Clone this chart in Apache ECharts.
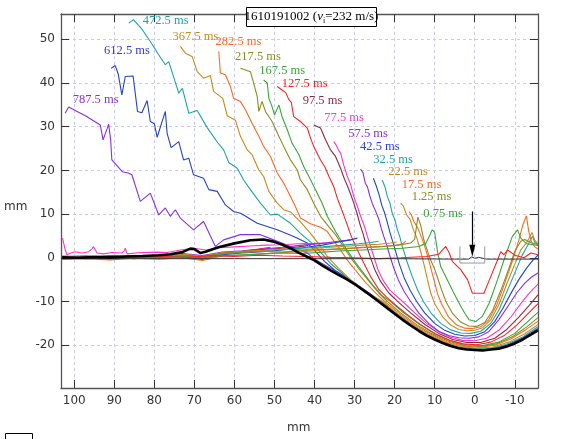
<!DOCTYPE html>
<html>
<head>
<meta charset="utf-8">
<script src="https://cdn.jsdelivr.net/npm/echarts@6/dist/echarts.min.js"></script>
<style>
html, body { margin: 0; padding: 0; background: #fff; }
#chart { width: 567px; height: 439px; }
</style>
</head>
<body>
<div id="chart"></div>
<script>
// tick values (mm)
const xTicks = [-10, 0, 10, 20, 30, 40, 50, 60, 70, 80, 90, 100];
const yTicks = [-20, -10, 0, 10, 20, 30, 40, 50];
const GAP = ['-', '-'];

// surface profiles [x mm, height mm]
const p0_25 = [[103,0.0],[96,-0.2],[90,0.1],[84,0.0],[78,0.3],[72,0.1],[66,0.5],[60,0.3],[54,0.6],[48,0.4],[42,0.3],[36,0.1],[30,0.0],[24,-0.2],[18.5,0.0],[12,0.3],[9,0.8],[7.25,2.6],[6.4,1.2],[5.6,-0.8],[3.5,-2.7],[1.8,-5.0],[0.6,-8.1],[-2.3,-8.1],[-4,-4.3],[-5.7,-0.5],[-6.5,1.4],[-7.3,0.7],[-8.2,1.8],[-10,0.6],[-12.3,0.0],[-14,1.1],[-15.8,0.7]];
const p0_75 = [[103,-0.2],[97,0.0],[91,-0.3],[85,0.1],[79,-0.1],[73,0.3],[68,-0.2],[63,0.5],[58,0.7],[53,0.9],[48,1.1],[43,1.0],[38,1.3],[33,1.6],[28,1.8],[23,2.0],[18,2.2],[14,2.6],[12.2,3.3],[11.2,5.2],[10.6,6.4],[10,5.8],[9.25,1.2],[8.5,-2.0],[7.2,-4.4],[6,-6.6],[4.8,-8.8],[3.5,-11.1],[2.4,-12.8],[1.4,-14.2],[-0.25,-14.6],[-1.9,-13.4],[-3.6,-10.4],[-5.7,-5.0],[-7.3,-0.5],[-9.4,4.9],[-10.7,6.4],[-11.5,4.5],[-13,3.2],[-15.8,2.8]];
const p1_25 = [[103,0.2],[97,-0.1],[91,0.3],[85,0.0],[79,0.4],[73,0.6],[68,0.1],[63,1.0],[58,1.2],[53,1.5],[48,1.3],[43,1.7],[38,1.9],[33,2.1],[28,2.4],[23,2.6],[19,2.9],[16,3.4],[15,4.2],[14.2,9.3],[13.5,7.5],[12.7,4.1],[11.8,1.6],[11,-0.5],[10,-2.6],[9.2,-4.8],[8.2,-7.5],[7.2,-10.0],[5.5,-12.8],[3.5,-14.7],[1.5,-15.6],[-0.5,-15.7],[-2.5,-14.8],[-4.5,-12.0],[-6.5,-7.5],[-8.5,-2.5],[-10,1.5],[-11.5,3.8],[-12.5,4.2],[-14,3.5],[-15.8,3.0]];
const p17_5 = [[103,-0.4],[97,-0.2],[91,-0.5],[85,-0.1],[79,-0.3],[73,0.0],[68,-0.6],[63,0.4],[58,0.6],[53,0.9],[48,1.2],[43,1.4],[38,1.8],[33,2.0],[28,2.3],[24,2.5],[20,2.8],[18,3.2],[17.2,3.8],GAP,[16.4,10.6],[15.8,9.8],[15.2,8.3],[14.2,6.8],[13.2,4.5],[12.2,1.8],[11.2,-1.5],[10.2,-5.0],[9.3,-8.2],[8.3,-10.5],[6.5,-13.6],[4.5,-15.4],[2.5,-16.1],[0.5,-16.2],[-1.5,-15.8],[-3.5,-14.2],[-5.5,-10.8],[-7.5,-5.8],[-9.5,-0.5],[-11,4.0],[-12,7.5],[-12.9,9.6],[-13.5,6.0],[-14.2,3.5],[-15,2.5],[-15.8,2.0]];
const p22_5 = [[103,0.3],[97,0.5],[91,0.2],[85,0.6],[79,0.3],[73,0.8],[68,0.4],[63,1.2],[58,1.5],[53,1.7],[48,2.0],[43,1.8],[38,2.3],[33,2.6],[28,2.9],[24,3.1],[21,3.4],[19.5,3.6],GAP,[18.5,12.5],[17.8,11.8],[17,9.8],[16.2,8.9],[15.3,6.4],[14.4,4.4],[13.5,1.5],[12.6,-1.8],[11.8,-5.0],[11.0,-8.0],[10,-10.5],[8,-13.5],[6,-15.4],[4,-16.4],[2,-16.7],[0,-16.6],[-2,-16.0],[-4,-14.2],[-6,-10.8],[-8,-6.0],[-10,-1.5],[-11.5,1.8],[-13,3.5],[-14.3,5.8],[-15,4.0],[-15.8,3.2]];
const p32_5 = [[103,-0.1],[97,0.2],[91,-0.2],[85,0.3],[79,0.1],[73,0.5],[68,-0.3],[63,0.9],[58,1.3],[53,1.6],[48,1.9],[43,2.2],[38,2.5],[33,2.9],[29,3.2],[26,3.5],[24,3.8],GAP,[23.1,17.8],[22.4,16.2],[21.8,14.0],[21.2,12.6],[20.6,10.2],[19.9,8.6],[19.3,6.4],[18.7,4.8],[18.1,2.6],[17.4,0.6],[16.8,-1.2],[15.6,-4.3],[14.2,-7.5],[12.8,-10.0],[10.8,-12.8],[8.5,-15.0],[6,-16.5],[3.5,-17.2],[1,-17.3],[-1.5,-16.8],[-4,-15.0],[-6,-12.0],[-8,-7.8],[-10,-3.5],[-11.8,0.5],[-13.2,2.8],[-14.4,4.9],[-15,3.5],[-15.8,3.0]];
const p42_5 = [[103,0.1],[97,-0.1],[91,0.2],[85,-0.2],[79,0.3],[73,0.2],[68,-0.4],[63,0.7],[58,1.1],[53,1.4],[48,1.8],[43,2.3],[38,2.9],[34,3.6],[31,4.1],[29.3,4.5],GAP,[25.3,18.2],[24.6,16.5],[23.9,14.5],[23.2,12.0],[22.5,10.3],[21.8,8.0],[21.1,5.6],[20.3,3.2],[19.6,1.0],[18.8,-1.5],[17.6,-4.6],[16.1,-7.5],[14.5,-10.0],[12.5,-12.6],[10,-15.0],[7.5,-16.6],[5,-17.5],[2.5,-17.9],[0,-17.8],[-2.5,-16.9],[-5,-14.6],[-7,-11.6],[-9,-8.2],[-11,-5.0],[-13,-2.3],[-14.5,-0.6],[-15.8,0.6]];
const p57_5 = [[103,0.4],[97,0.2],[91,0.5],[85,0.3],[79,0.6],[73,1.0],[68,0.5],[63,1.3],[58,1.6],[53,2.0],[48,2.4],[43,2.9],[38,3.3],[34,3.8],[31,4.1],GAP,[28.5,20.3],[27.9,19.5],[27.3,17.0],[26.8,16.3],[26.2,14.2],[25.6,12.5],[24.8,10.8],[23.9,8.7],[23.3,6.6],[22.7,4.9],[22.0,3.0],[21.4,1.1],[20.2,-2.4],[19.1,-5.0],[17.7,-7.6],[16,-10.0],[14,-12.6],[11.5,-15.0],[9,-16.8],[6.5,-17.8],[4,-18.3],[1.5,-18.4],[-1,-18.1],[-3.5,-16.9],[-6,-14.2],[-8.5,-10.8],[-10.5,-8.0],[-12.5,-5.8],[-14.2,-4.4],[-15.8,-3.5]];
const p77_5 = [[102.9,4.5],[102.3,2.0],[101.8,0.7],[100.5,1.2],[99.75,1.4],[98,1.1],[96.4,1.4],[95.6,2.0],[95.2,2.6],[94.3,1.1],[92.7,0.9],[90.6,1.2],[88.1,1.1],[87.5,1.6],[87.25,2.2],[86.8,0.9],[83.5,1.2],[79.3,1.3],[76.8,1.2],[73.5,1.8],[70.2,2.2],[67,1.8],[64,2.3],[60,2.5],[56,2.7],[52,2.9],[48,3.0],[44,3.2],[40,3.3],[36.8,3.4],GAP,[35.2,26.6],[34.6,25.8],[34.0,24.6],[33.5,24.0],[32.7,21.2],[31.8,18.6],[31.0,16.8],[30.2,14.0],[29.3,11.8],[28.5,9.5],[27.6,7.4],[26.8,4.9],[26.0,2.6],[25.2,0.3],[24.2,-2.6],[23,-5.0],[21.2,-7.4],[18,-10.0],[15,-12.6],[12,-15.0],[9,-16.9],[6,-18.2],[3,-18.9],[0,-19.0],[-3,-18.4],[-6,-16.6],[-9,-13.6],[-11.5,-10.5],[-13.5,-8.2],[-15.8,-6.0]];
const p97_5 = [[103,0.0],[97,0.3],[91,0.1],[85,0.4],[79,0.2],[73,0.7],[68,0.3],[63,1.1],[58,1.4],[53,1.9],[48,2.2],[44,2.5],[41.5,2.8],GAP,[40.2,30.4],[39.75,30.2],[38.5,29.7],[37.25,27.0],[36,24.7],[34.75,23.2],[33.5,20.5],[32.6,18.2],[31.8,16.5],[31,14.6],[30.2,12.5],[29.4,10.2],[28.6,7.5],[27.9,5.6],[27.3,3.5],[26.2,0.5],[25,-2.6],[23.5,-5.4],[21.5,-8.0],[19,-10.2],[16,-12.6],[12.5,-15.2],[9,-17.3],[5.5,-18.7],[2,-19.4],[-1.5,-19.4],[-5,-18.4],[-8,-16.4],[-11,-13.6],[-13.5,-11.0],[-15.8,-8.5]];
const p127_5 = [[103,0.2],[97,0.0],[91,0.4],[85,0.1],[79,0.5],[73,0.6],[68,0.0],[63,1.0],[58,1.5],[54,2.0],[51,2.4],GAP,[49.3,39.2],[48.1,38.4],[47.2,37.8],[46.4,36.2],[45.8,35.6],[45.2,32.3],[43.5,31.2],[41.8,29.7],[41,27.4],[40.2,25.5],[38.5,22.4],[37.4,20.8],[36.4,18.6],[35.2,16.3],[34.3,13.6],[33.5,11.7],[32,8.0],[31,5.3],[29.3,1.8],[27.7,-1.2],[26,-4.3],[24,-7.2],[22,-9.0],[20,-10.6],[17,-12.9],[13.5,-15.3],[10,-17.3],[6.5,-18.8],[3,-19.7],[-0.5,-19.9],[-4,-19.3],[-7.5,-17.7],[-10.5,-15.4],[-13.5,-12.6],[-15.8,-10.5]];
const p167_5 = [[103,-0.3],[97,0.1],[91,-0.1],[85,0.2],[79,0.0],[73,0.4],[68,-0.1],[63,0.8],[58,1.3],[55,1.7],GAP,[52.7,40.7],[51.8,40],[51.4,36.5],[50.6,34.6],[50,32.7],[48.9,35],[48.1,32.3],[46.8,29.3],[45.6,26.2],[43.9,23.6],[42.7,20.9],[41.4,18.6],[39.75,15.6],[38.1,12.5],[36.8,9.5],[34.75,6.0],[32.25,2.3],[30.2,-0.5],[28,-3.2],[25.5,-6.2],[23.2,-8.6],[21,-10.0],[18,-12.4],[14,-15.1],[10,-17.4],[6,-19.0],[2,-19.9],[-2,-20.1],[-6,-19.3],[-10,-17.3],[-13,-14.8],[-15.8,-12.5]];
const p217_5 = [[103,0.1],[97,-0.2],[91,0.2],[85,-0.1],[79,0.3],[73,0.5],[68,0.0],[63,0.9],[60.5,1.2],GAP,[58.5,43.4],[56,42.6],[55.2,40],[54.3,36.9],[53.9,33.5],[53.1,35.8],[52.25,33.5],[50.6,31.2],[48.9,27.8],[47.7,25.5],[46,22.4],[44.3,20.1],[43.5,17.8],[41.8,15.6],[40.2,12.5],[38.5,9.5],[36.5,7.2],[34.75,5.3],[32.25,1.8],[30.5,-0.6],[28.5,-3.0],[26,-5.8],[24,-8.0],[21.8,-10.0],[18.5,-12.6],[14.5,-15.3],[10.5,-17.5],[6.5,-19.1],[2.5,-20.1],[-1.5,-20.3],[-5.5,-19.7],[-9.5,-18.0],[-13,-15.8],[-15.8,-13.7]];
const p282_5 = [[63.9,47.2],[63.5,42.3],[62.25,41.9],[61,39.2],[60.2,36.5],[58.5,35.8],[57.25,33.9],[55.6,30.8],[53.9,27.8],[52.7,25.5],[51,23.2],[49.3,19.4],[47.7,17.1],[46.4,14.8],[44.75,11.7],[43.5,9.1],[41,7.8],[38.5,7.0],[36.8,6.0],[35,3.6],[33.5,1.8],[32,-0.3],[30,-2.6],[27.5,-5.4],[25,-7.8],[22.5,-10.0],[19,-12.6],[15,-15.3],[11,-17.5],[7,-19.2],[3,-20.2],[-1,-20.5],[-5,-20.0],[-9,-18.6],[-12.5,-16.6],[-15.8,-14.5]];
const p367_5 = [[73.5,48.4],[72.2,46.8],[70.5,46.0],[70.2,45.7],[69.3,42.6],[67.7,41.1],[66,41.7],[65.2,38.1],[64.75,37.7],[62.9,36.5],[61.8,32.5],[59.75,31.5],[58.5,27.8],[56.8,24.7],[55.6,23.6],[53.9,20.1],[52.7,18.6],[51.4,15.2],[49.3,12.5],[47.7,11.0],[46,10.5],[43.5,8.2],[41,5.6],[38.5,2.6],[36.8,0.3],[34,-2.4],[31,-5.0],[27,-7.9],[23,-10.0],[19.5,-12.7],[15.5,-15.3],[11.5,-17.6],[7.5,-19.3],[3.5,-20.3],[-0.5,-20.7],[-4.5,-20.4],[-8.5,-19.3],[-12.5,-17.4],[-15.8,-15.3]];
const p472_5 = [[86.4,53.7],[85.2,54.5],[83,52.2],[81,49.5],[79,46.6],[77.25,44.2],[76.4,44.9],[73.9,37.7],[73,38.8],[71.4,33.1],[69.3,33.7],[66.8,29.8],[64.3,26.5],[62.7,24.7],[61.4,21.8],[59.3,20.5],[57.7,17.8],[56,15.6],[53.5,12.5],[51,9.8],[49.3,10.0],[46,7.9],[43.5,5.6],[40.2,3.0],[38,0.8],[36,-1.3],[33,-3.6],[30,-6.0],[27,-8.1],[23.4,-10.0],[20,-12.6],[16,-15.2],[12,-17.4],[8,-19.2],[4,-20.4],[0,-20.8],[-4,-20.7],[-8,-19.8],[-12,-18.1],[-15.8,-15.8]];
const p612_5 = [[90.75,43.4],[89.75,44.0],[89,42],[88.1,37.3],[87.25,41.5],[85.3,41.6],[84.2,33.5],[83.1,33.2],[81.8,36.0],[81,31.2],[80,30.7],[79.3,27.6],[77.25,33.5],[76.8,28.5],[75.8,25.2],[73.9,26.6],[72.7,22.4],[71.4,22.8],[70.2,19.0],[67.7,18.2],[66.4,15.6],[64.3,15.2],[62.25,12.1],[60.2,10.6],[58.5,10.2],[57.7,9.8],[54.3,7.9],[49.3,6.4],[45.2,4.9],[41.8,3.4],[39.5,1.2],[37.5,-0.8],[35,-2.8],[32,-4.5],[28,-7.0],[24,-9.6],[20,-12.4],[16,-15.1],[12,-17.4],[8,-19.3],[4,-20.5],[0,-20.9],[-4,-20.8],[-8,-20.0],[-12,-18.3],[-15.8,-16.2]];
const p787_5 = [[102.25,33.1],[101.4,34.5],[97,32.4],[93.5,30.4],[92.8,27.0],[91.8,29.5],[91.4,30.6],[90.9,27],[90.6,22.4],[88,19.7],[86.5,19.4],[85.6,19.0],[83.5,12.9],[81,14.8],[78.9,9.8],[77.25,11.4],[76,9.5],[74.75,11.0],[73.5,9.1],[70.2,6.4],[67.7,8.3],[64.75,2.6],[62.7,4.1],[58.5,5.3],[53.5,5.3],[50.2,4.1],[46,2.6],[41.8,1.1],[40,-0.3],[36,-2.4],[32,-4.6],[28,-7.1],[24,-9.8],[20,-12.6],[16,-15.3],[12,-17.6],[8,-19.4],[4,-20.6],[0,-21.0],[-4,-20.9],[-8,-20.1],[-12,-18.5],[-15.8,-16.4]];
const pFinal = [[103,0.1],[99,0.0],[95,0.2],[91,0.1],[87,0.3],[83,0.4],[79,0.6],[76,0.8],[73,1.3],[71,2.1],[70,2.0],[68.5,1.1],[67.2,1.4],[64,2.4],[60,3.3],[56,4.0],[52.7,4.2],[50.2,3.7],[48,3.0],[46,2.2],[44,1.2],[42,0.3],[40,-0.6],[38,-1.8],[36,-2.9],[34,-3.9],[32,-4.9],[30,-6.0],[28,-7.3],[26,-8.6],[24,-10.0],[22,-11.4],[20,-12.8],[18,-14.2],[16,-15.5],[14,-16.7],[12,-17.8],[10,-18.7],[8,-19.5],[6,-20.2],[4,-20.7],[2,-21.0],[0,-21.1],[-2,-21.2],[-4,-21.0],[-6,-20.8],[-8,-20.3],[-10,-19.6],[-12,-18.7],[-14,-17.6],[-15.8,-16.6]];
const surface = [[103,-0.2],[60,-0.2],[20,-0.2],[5,-0.3],[1.5,-0.3],[0.8,0.2],[0,-0.1],[-1,0.1],[-3,-0.3],[-15.8,-0.3]];

// impact point marker and arrow
const bracket = [[3.7,2.6],[3.7,-1.2],[-2.5,-1.2],[-2.5,2.6]];
const arrowTail = [0.6, 10.6];
const arrowHead = [0.6, 1.6];

const labelTexts = ['787.5 ms','612.5 ms','472.5 ms','367.5 ms','282.5 ms','217.5 ms','167.5 ms','127.5 ms','97.5 ms','77.5 ms','57.5 ms','42.5 ms','32.5 ms','22.5 ms','17.5 ms','1.25 ms','0.75 ms'];

const C = {
    green: '#3aa63a', olive: '#8c8c20', orange: '#ff6a22', gold: '#c98a1c', teal: '#1da5a5',
    blue: '#2442c4', purple: '#8a2fe0', magenta: '#ff35cc', maroon: '#8e2a40', red: '#ff2222'
};

// drawn in this order (later on top)
const profiles = [
    [p787_5, C.purple], [p612_5, C.blue], [p472_5, C.teal], [p367_5, C.gold], [p282_5, C.orange],
    [p217_5, C.olive], [p167_5, C.green], [p127_5, C.red], [p97_5, C.maroon], [p77_5, C.magenta],
    [p57_5, C.purple], [p42_5, C.blue], [p32_5, C.teal], [p22_5, C.gold], [p17_5, C.orange],
    [p1_25, C.olive], [p0_75, C.green], [p0_25, C.red]
];
const labelColors = [C.purple, '#3535ee', C.teal, C.gold, C.orange, C.olive, C.green, C.red, C.maroon, C.magenta,
    C.purple, '#2a3cf5', C.teal, C.gold, C.orange, C.olive, C.green];
const labelPos = [[72.7,100],[104,50.7],[142.7,21],[172.5,36.7],[215.5,41.7],[235,56.7],[259.3,71],[281.7,83.7],
    [302.7,100.7],[324.3,117.3],[348.3,133.3],[360,146.7],[373.3,160],[388.3,171.7],[401.7,185],[411.7,196.7],[423.3,213.3]];

let chart = echarts.init(document.getElementById('chart'));

const axisFont = { fontFamily: 'DejaVu Sans', fontSize: 12, color: '#333' };
const gridLine = { show: true, lineStyle: { color: '#c9c9f2', type: [3, 3], width: 1 } };
const frame = { show: true, onZero: false, lineStyle: { color: '#555', width: 1.3 } };

let series = profiles.map(p => ({
    type: 'line',
    data: p[0],
    showSymbol: false,
    symbol: 'none',
    silent: true,
    lineStyle: { color: p[1], width: 1.1 }
}));

series.push({
    type: 'line', data: surface, showSymbol: false, symbol: 'none', silent: true,
    lineStyle: { color: '#333', width: 1 },
    markLine: {
        silent: true,
        symbol: ['none', 'triangle'],
        symbolSize: [6, 12],
        label: { show: false },
        lineStyle: { color: '#000', width: 1.2, type: 'solid' },
        data: [[{ coord: arrowTail }, { coord: arrowHead }]]
    }
});
series.push({
    type: 'line', data: bracket, showSymbol: false, symbol: 'none', silent: true,
    lineStyle: { color: '#999', width: 1 }
});
series.push({
    type: 'line', data: pFinal, showSymbol: false, symbol: 'none', silent: true,
    lineStyle: { color: '#000', width: 2.6 }
});

let graphics = labelTexts.map((t, i) => ({
    type: 'text', x: labelPos[i][0], y: labelPos[i][1], z: 100,
    style: { text: t, fill: labelColors[i], fontFamily: 'Liberation Serif', fontSize: 12.5, verticalAlign: 'middle' }
}));
graphics.push({
    type: 'rect', z: 100, shape: { x: 246.5, y: 7.5, width: 130, height: 19 },
    style: { fill: '#fff', stroke: '#000', lineWidth: 1 }
});
graphics.push({
    type: 'text', x: 311.5, y: 17, z: 101,
    style: {
        text: '1610191002 ({it|v}{sub|i}=232 m/s)',
        fill: '#000', fontFamily: 'Liberation Serif', fontSize: 13,
        align: 'center', verticalAlign: 'middle',
        rich: {
            it: { fontFamily: 'Liberation Serif', fontSize: 13, fontStyle: 'italic', fill: '#000' },
            sub: { fontFamily: 'Liberation Serif', fontSize: 8, fill: '#000', padding: [7, 0, 0, 0] }
        }
    }
});
graphics.push({
    type: 'text', x: 287, y: 428, z: 100,
    style: { text: 'mm', fill: '#333', fontFamily: 'DejaVu Sans', fontSize: 12, verticalAlign: 'middle' }
});
graphics.push({
    type: 'text', x: 4, y: 207, z: 100,
    style: { text: 'mm', fill: '#333', fontFamily: 'DejaVu Sans', fontSize: 12, verticalAlign: 'middle' }
});
graphics.push({
    type: 'rect', z: 100, shape: { x: 5.5, y: 433.5, width: 27, height: 10 },
    style: { fill: 'none', stroke: '#000', lineWidth: 1 }
});

let option = {
    animation: false,
    backgroundColor: '#fff',
    grid: { left: 61, right: 29, top: 14, bottom: 51 },
    xAxis: [{
        type: 'value', inverse: true, min: -15.8, max: 103.3,
        axisLine: frame,
        axisTick: { inside: true, length: 8, customValues: xTicks, lineStyle: { color: '#333' } },
        axisLabel: { ...axisFont, margin: 7, customValues: xTicks },
        splitLine: gridLine
    }, {
        type: 'value', inverse: true, min: -15.8, max: 103.3, position: 'top',
        axisLine: frame,
        axisTick: { inside: true, length: 8, customValues: xTicks, lineStyle: { color: '#333' } },
        axisLabel: { show: false },
        splitLine: { show: false }
    }],
    yAxis: [{
        type: 'value', min: -29.8, max: 55.8,
        axisLine: frame,
        axisTick: { inside: true, length: 8, customValues: yTicks, lineStyle: { color: '#333' } },
        axisLabel: { ...axisFont, margin: 6, customValues: yTicks },
        splitLine: gridLine
    }, {
        type: 'value', min: -29.8, max: 55.8, position: 'right',
        axisLine: frame,
        axisTick: { inside: true, length: 8, customValues: yTicks, lineStyle: { color: '#333' } },
        axisLabel: { show: false },
        splitLine: { show: false }
    }],
    series: series,
    graphic: graphics
};

chart.setOption(option);
</script>
</body>
</html>
